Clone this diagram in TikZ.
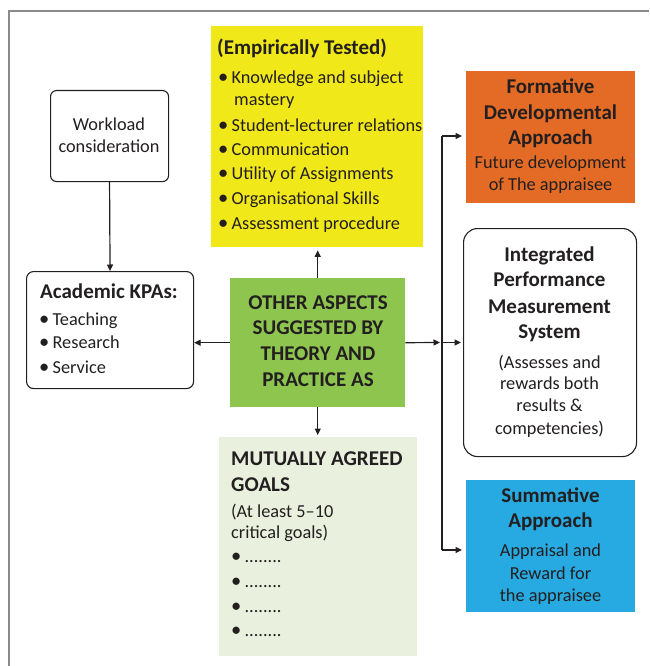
\documentclass[tikz,border=0pt]{standalone}
\usepackage{fontspec}
\setmainfont{Carlito}
\usetikzlibrary{arrows.meta}
\definecolor{ink}{HTML}{231F20}
\definecolor{framegray}{HTML}{8A8A8A}
\definecolor{cyellow}{HTML}{F1E81A}
\definecolor{corange}{HTML}{E46B25}
\definecolor{cgreen}{HTML}{8DC54F}
\definecolor{clight}{HTML}{E9F0DD}
\definecolor{cblue}{HTML}{27AAE1}
\newcommand\mybul{{\fontsize{20.5}{22}\selectfont •}\hspace{3.2pt}}
\begin{document}
\begin{tikzpicture}[x=1pt,y=-1pt,
  box/.style={draw=ink, line width=1.1pt, rounded corners=6pt, inner sep=0pt, anchor=north west},
  fbox/.style={draw=none, inner sep=0pt, anchor=north west},
  rg/.style={font=\fontsize{18.3}{22}\selectfont, text=ink, inner sep=0pt},
  bd/.style={font=\bfseries\fontsize{21}{25}\selectfont, text=ink, inner sep=0pt},
  arr/.style={draw=ink, line width=1.2pt, -{Triangle[length=6.5pt,width=6pt]}},
  bus/.style={draw=ink, line width=1.2pt}]
\useasboundingbox (0,0) rectangle (649,666);
% frame
\draw[framegray, line width=1.6pt] (9,666) -- (9,11) -- (649,11);

% boxes
\node[box, minimum width=118pt, minimum height=91pt] (work) at (50,90) {};
\node[box, rounded corners=7pt, minimum width=167pt, minimum height=117pt] (acad) at (26,271) {};
\node[fbox, fill=cyellow, minimum width=212pt, minimum height=221pt] (yel) at (211,26) {};
\node[fbox, fill=cgreen, minimum width=175pt, minimum height=129pt] (green) at (230,278) {};
\node[fbox, fill=clight, minimum width=198pt, minimum height=219pt] (mut) at (219,437) {};
\node[fbox, fill=corange, minimum width=169pt, minimum height=132pt] (form) at (466,71) {};
\node[box, rounded corners=14pt, minimum width=173pt, minimum height=228pt] (integ) at (463,228) {};
\node[fbox, fill=cblue, minimum width=169pt, minimum height=132pt] (summ) at (466,480) {};

% texts: workload
\node[rg, anchor=base] (w1) at (109,130) {Workload};
\node[rg, anchor=base] (w2) at (109,152.5) {consideration};

% academic
\node[bd, anchor=base west] (a0) at (40,298.5) {Academic KPAs:};
\foreach \yy/\txt [count=\i] in {325.5/Teaching,348.5/Research,373.5/Service}
  \node[rg, anchor=base west] (a\i) at (39,\yy) {\mybul\txt};

% yellow
\node[bd, anchor=base west] (y0) at (217,54.5) {(Empirically Tested)};
\node[rg, anchor=base west] (y1) at (218,83.5) {\mybul Knowledge and subject};
\node[rg, anchor=base west] (y1b) at (234,105.5) {mastery};
\foreach \yy/\txt [count=\i from 2] in {131.5/Student-lecturer relations,155.5/Communication,179.5/Utility of Assignments,204.5/Organisational Skills,229.5/Assessment procedure}
  \node[rg, anchor=base west] (y\i) at (218,\yy) {\mybul\txt};

% green
\foreach \yy/\txt [count=\i] in {309.5/OTHER ASPECTS,334.5/SUGGESTED BY,360.5/THEORY AND,386.5/PRACTICE AS}
  \node[bd, anchor=base] (g\i) at (318,\yy) {\txt};

% mutually agreed
\node[bd, anchor=base west] (m1) at (231,465.5) {MUTUALLY AGREED};
\node[bd, anchor=base west] (m2) at (231,491.5) {GOALS};
\node[rg, anchor=base west] (m3) at (231,517.5) {(At least 5–10};
\node[rg, anchor=base west] (m4) at (231,538.5) {critical goals)};
\foreach \yy [count=\i from 5] in {562,587,612,636}
  \node[rg, anchor=base west] (m\i) at (231,\yy) {\mybul........};

% formative
\foreach \yy/\txt [count=\i] in {93.5/Formative,119.5/Developmental,144.5/Approach}
  \node[bd, anchor=base] (f\i) at (550.5,\yy) {\txt};
\node[rg, anchor=base] (f4) at (550.5,168.5) {Future development};
\node[rg, anchor=base] (f5) at (550.5,190.5) {of The appraisee};

% integrated
\foreach \yy/\txt [count=\i] in {261.5/Integrated,286.5/Performance,313.5/Measurement,338.5/System}
  \node[bd, anchor=base] (i\i) at (549.5,\yy) {\txt};
\foreach \yy/\txt [count=\i from 5] in {368.5/(Assesses and,389.5/rewards both,411.5/results \&,434.5/competencies)}
  \node[rg, anchor=base] (i\i) at (549.5,\yy) {\txt};

% summative
\node[bd, anchor=base] (s1) at (550.5,502.5) {Summative};
\node[bd, anchor=base] (s2) at (550.5,527.5) {Approach};
\foreach \yy/\txt [count=\i from 3] in {556.5/Appraisal and,579.5/Reward for,601.5/the appraisee}
  \node[rg, anchor=base] (s\i) at (550.5,\yy) {\txt};

% connectors
\coordinate (busM) at (442,342.5);
\coordinate (busT) at (442,136);
\coordinate (busB) at (442,550);
\draw[arr] (work.south) -- (acad.north);
\draw[arr, shorten >=3pt] (green.north) -- (green.north |- yel.south);
\draw[arr] (green.west) -- (green.west -| acad.east);
\draw[arr, shorten >=2pt] (green.south) -- (green.south |- mut.north);
\draw[arr, shorten >=2pt] (green.east) -- (busM);
\draw[bus] (busT) -- (busB);
\draw[arr, shorten >=2pt] (busM) -- (busM -| integ.west);
\draw[arr, shorten >=4pt] (busT) -- (busT -| form.west);
\draw[arr, shorten >=4pt] (busB) -- (busB -| summ.west);
\end{tikzpicture}
\end{document}
